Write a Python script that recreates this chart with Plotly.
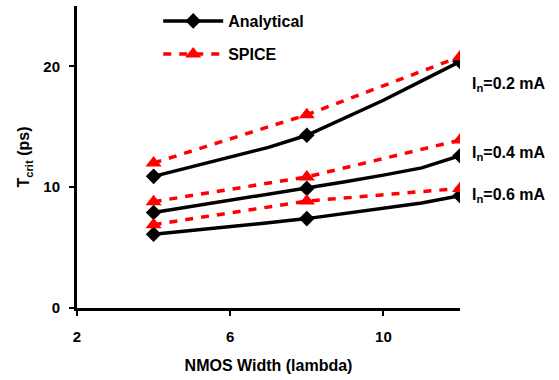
import plotly.graph_objects as go

x_dense = [4, 5, 6, 7, 8, 9, 10, 11, 12]
x_pts = [4, 8, 12]

ana_02 = [10.9, 11.7, 12.5, 13.3, 14.3, 15.75, 17.2, 18.8, 20.4]
ana_04 = [7.9, 8.4, 8.9, 9.4, 9.9, 10.45, 11.0, 11.6, 12.6]
ana_06 = [6.1, 6.4, 6.75, 7.05, 7.4, 7.85, 8.3, 8.7, 9.3]

ana_02_pts = [10.9, 14.3, 20.4]
ana_04_pts = [7.9, 9.9, 12.6]
ana_06_pts = [6.1, 7.4, 9.3]

spice_02 = [12.0, 16.0, 20.8]
spice_04 = [8.8, 10.85, 13.9]
spice_06 = [6.9, 8.85, 9.9]

labels = ["I<sub>n</sub>=0.2 mA", "I<sub>n</sub>=0.4 mA", "I<sub>n</sub>=0.6 mA"]
label_y = [18.5, 12.8, 9.3]

FONT = "Liberation Sans, Arial, sans-serif"
BIG = 16
fig = go.Figure()

for dense, pts in [(ana_02, ana_02_pts), (ana_04, ana_04_pts), (ana_06, ana_06_pts)]:
    fig.add_trace(go.Scatter(x=x_dense, y=dense, mode="lines",
                             line=dict(color="black", width=3.5), showlegend=False,
                             hoverinfo="skip"))
    fig.add_trace(go.Scatter(x=x_pts, y=pts, mode="markers",
                             marker=dict(symbol="diamond", size=12, color="black"),
                             showlegend=False))

for s in [spice_02, spice_04, spice_06]:
    fig.add_trace(go.Scatter(x=x_pts, y=s, mode="lines+markers",
                             line=dict(color="#ff0000", width=3.5, dash="8px,8px"),
                             marker=dict(symbol="triangle-up", size=14, color="#ff0000"),
                             showlegend=False))

# legend entries
fig.add_trace(go.Scatter(x=[None], y=[None], mode="lines+markers", name="Analytical",
                         line=dict(color="black", width=3.5),
                         marker=dict(symbol="diamond", size=12, color="black"),
                         legend="legend"))
fig.add_trace(go.Scatter(x=[None], y=[None], mode="lines+markers", name="SPICE",
                         line=dict(color="#ff0000", width=3.5, dash="8px,8px"),
                         marker=dict(symbol="triangle-up", size=14, color="#ff0000"),
                         legend="legend2"))

for t, yv in zip(labels, label_y):
    fig.add_annotation(x=12, y=yv, xref="x", yref="y", text=t, showarrow=False,
                       xanchor="left", xshift=10,
                       font=dict(family=FONT, size=BIG, color="black", weight="bold"))

leg_common = dict(font=dict(family=FONT, size=BIG, color="black", weight="bold"),
                  bgcolor="rgba(0,0,0,0)", itemwidth=60, xanchor="left", yanchor="middle",
                  tracegroupgap=0)

fig.update_layout(
    width=559, height=380,
    margin=dict(l=77, r=99, t=5, b=72),
    plot_bgcolor="white", paper_bgcolor="white",
    font=dict(family=FONT, size=BIG, color="black", weight="bold"),
    legend=dict(x=0.212, y=1 - (21 - 5) / 303, **leg_common),
    legend2=dict(x=0.212, y=1 - (54 - 5) / 303, **leg_common),
    xaxis=dict(range=[2, 12], tickvals=[2, 6, 10], showgrid=False, zeroline=False,
               showline=True, linecolor="black", linewidth=3,
               ticks="outside", ticklen=5, tickwidth=2, tickcolor="black",
               ticklabelstandoff=8,
               tickfont=dict(family=FONT, size=15, color="black", weight="bold"),
               title=dict(text="NMOS Width (lambda)", standoff=16,
                          font=dict(family=FONT, size=BIG, color="black", weight="bold"))),
    yaxis=dict(range=[0, 25], tickvals=[0, 10, 20], showgrid=False, zeroline=False,
               showline=True, linecolor="black", linewidth=3,
               ticks="outside", ticklen=5, tickwidth=2, tickcolor="black",
               ticklabelstandoff=6,
               tickfont=dict(family=FONT, size=15, color="black", weight="bold"),
               title=dict(text="T<sub>crit</sub> (ps)", standoff=10,
                          font=dict(family=FONT, size=BIG, color="black", weight="bold"))),
)

fig.write_html("out.html")
